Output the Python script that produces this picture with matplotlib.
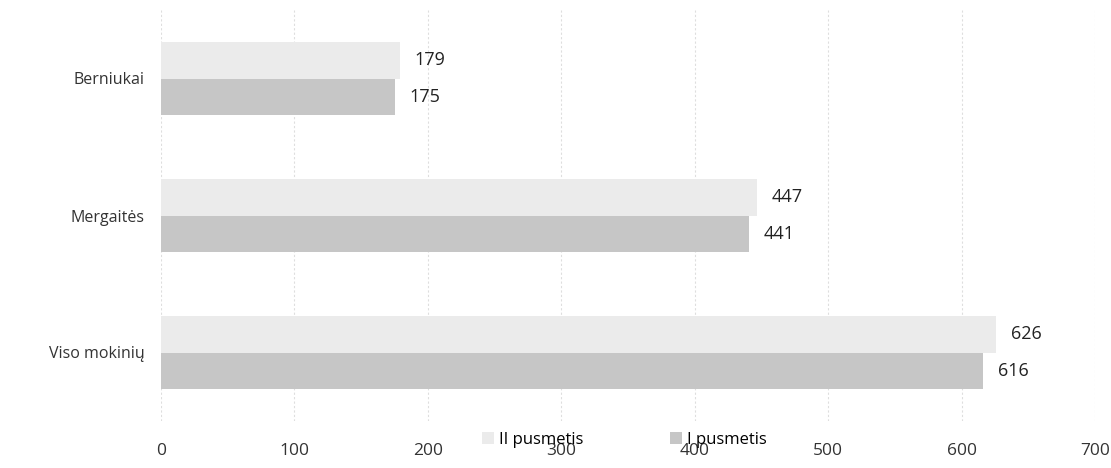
import numpy as np
import matplotlib
matplotlib.use('Agg')
import matplotlib.pyplot as plt

#data
categories = ['Viso mokinių', 'Mergaitės', 'Berniukai']
series_names = ['II pusmetis', 'I pusmetis']
ii_pusmetis = [626, 447, 179]
i_pusmetis = [616, 441, 175]
x_ticks = [0, 100, 200, 300, 400, 500, 600, 700]

plt.rcParams['font.family'] = ['Open Sans', 'DejaVu Sans']

fig = plt.figure(figsize=(11.11, 4.68), dpi=100)
ax = fig.add_axes([161/1111, 1-421/468, (1095-161)/1111, 411/468])

y = np.arange(len(categories))
h = 0.265
b2 = ax.barh(y + h/2, ii_pusmetis, height=h, color='#ebebeb', label=series_names[0])
b1 = ax.barh(y - h/2, i_pusmetis, height=h, color='#c6c6c6', label=series_names[1])

for bars, vals in [(b2, ii_pusmetis), (b1, i_pusmetis)]:
    for bar, v in zip(bars, vals):
        ax.text(bar.get_width() + 11, bar.get_y() + bar.get_height()/2, str(v),
                va='center', ha='left', fontsize=13, color='#222222')

ax.set_xlim(0, 700)
ax.set_ylim(-0.5, 2.5)
ax.set_xticks(x_ticks)
ax.set_yticks(y)
ax.set_yticklabels(categories)
ax.tick_params(axis='x', length=0, labelsize=12.5, pad=16, colors='#333333')
ax.tick_params(axis='y', length=0, labelsize=11.5, pad=12, colors='#333333')
ax.grid(axis='x', color='#dedede', linestyle=(0, (2, 2)), linewidth=0.8)
ax.set_axisbelow(True)
for s in ax.spines.values():
    s.set_visible(False)

fig.legend(handles=[b2, b1], labels=series_names, loc='center', ncol=2,
           bbox_to_anchor=(0.562, 1-440/468), frameon=False, fontsize=12,
           handlelength=0.7, handleheight=0.7, columnspacing=5.2, handletextpad=0.3)

fig.savefig('out.png', dpi=100)
